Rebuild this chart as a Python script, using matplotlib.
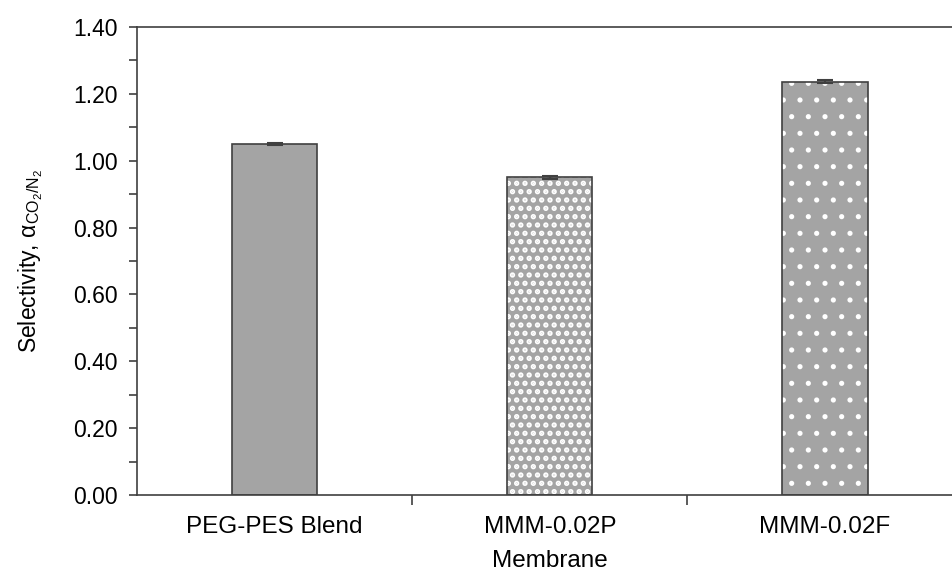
import matplotlib
matplotlib.use('Agg')
import matplotlib.pyplot as plt
import numpy as np
from matplotlib.ticker import MultipleLocator, FixedLocator

plt.rcParams['font.family'] = ['Liberation Sans', 'DejaVu Sans']
plt.rcParams['mathtext.fontset'] = 'custom'
plt.rcParams['mathtext.rm'] = 'Liberation Sans'
plt.rcParams['mathtext.it'] = 'Liberation Sans:italic'

membranes = ['PEG-PES Blend', 'MMM-0.02P', 'MMM-0.02F']
selectivity = [1.05, 0.95, 1.236]
erreur = [0.004, 0.004, 0.004]
motifs = ['', '..', '.']
epaisseurs_motif = [1.0, 2.6, 1.3]

gris = '#a4a4a4'
trait = '#404040'

fig = plt.figure(figsize=(9.52, 5.73), dpi=100)
# axe plus large que la figure : le bord droit est coupé
ax = fig.add_axes([137 / 952, 1 - 495 / 573, 825.5 / 952, 468 / 573])

x = np.arange(len(membranes))
largeur = 0.31
# remplissage gris + motif blanc, puis contour sombre par-dessus
for xi, v, m, e in zip(x, selectivity, motifs, epaisseurs_motif):
    with plt.rc_context({'hatch.linewidth': e}):
        ax.bar(xi, v, largeur, color=gris, edgecolor='white', hatch=m, linewidth=0, zorder=2)
ax.bar(x, selectivity, largeur, fill=False, edgecolor=trait, linewidth=1.2, zorder=3)
ax.errorbar(x, selectivity, yerr=erreur, fmt='none', ecolor=trait, elinewidth=1.5,
            capsize=6, capthick=1.5, zorder=4)

ax.set_xlim(-0.5, 2.5)
ax.set_ylim(0, 1.4)
ax.set_yticks(np.arange(0, 1.41, 0.2))
ax.set_yticklabels(['%.2f' % t for t in np.arange(0, 1.41, 0.2)])
ax.yaxis.set_minor_locator(MultipleLocator(0.1))
ax.set_xticks(x)
ax.set_xticklabels(membranes)
ax.xaxis.set_minor_locator(FixedLocator([0.5, 1.5]))

ax.tick_params(axis='x', which='major', length=0, pad=15, labelsize=17.5)
ax.tick_params(axis='x', which='minor', length=7, width=1.2, color=trait, direction='out')
ax.tick_params(axis='y', which='both', length=6, width=1.2, color=trait, direction='out',
               labelsize=16.5, pad=8)

for s in ax.spines.values():
    s.set_color(trait)
    s.set_linewidth(1.2)

ax.set_xlabel('Membrane', fontsize=17.5, labelpad=9)
ax.set_ylabel(r'Selectivity, α$_{\mathregular{CO_2/N_2}}$', fontsize=16.5, labelpad=20)

fig.savefig('out.png', dpi=100)
